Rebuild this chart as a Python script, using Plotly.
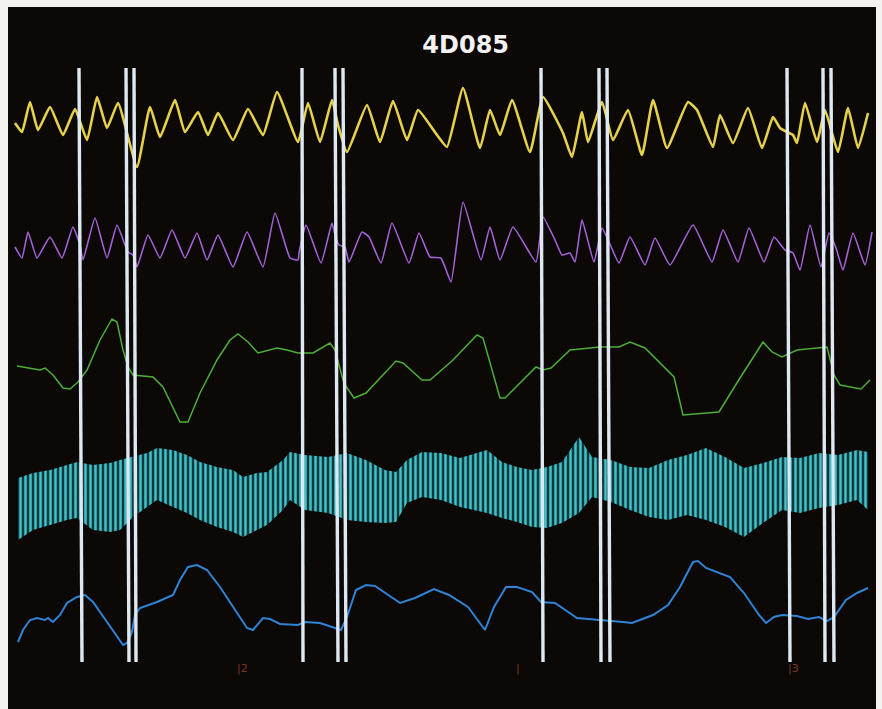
import plotly.graph_objects as go

# ---- channel 1 (yellow) ----
ch1_t = [15, 22, 30, 38, 50, 63, 75, 87, 97, 107, 118, 137, 150, 160, 175, 185, 198, 208, 218, 233,
         248, 263, 277, 298, 308, 320, 332, 338, 347, 367, 380, 393, 407, 418, 437, 447, 463, 480,
         490, 500, 512, 530, 543, 563, 572, 582, 588, 602, 613, 628, 642, 653, 667, 688, 697, 713,
         720, 733, 748, 762, 773, 780, 787, 793, 797, 805, 817, 825, 838, 848, 858, 868]
ch1_v = [123, 132, 102, 130, 107, 135, 109, 140, 97, 128, 103, 167, 107, 137, 100, 132, 112, 135, 113, 140,
         109, 135, 92, 142, 103, 142, 100, 125, 152, 105, 142, 101, 140, 110, 135, 147, 88, 148,
         110, 135, 100, 152, 97, 133, 157, 112, 142, 102, 140, 110, 155, 100, 148, 102, 110, 147,
         115, 143, 108, 148, 117, 128, 132, 135, 143, 103, 142, 110, 152, 108, 148, 113]

# ---- channel 2 (purple) ----
ch2_t = [15, 22, 28, 37, 50, 62, 73, 80, 83, 95, 107, 117, 128, 133, 137, 148, 160, 172, 185, 197,
         207, 218, 233, 247, 263, 275, 290, 298, 299, 306, 321, 332, 335, 339, 345, 349, 362, 369,
         381, 392, 409, 419, 430, 441, 451, 463, 481, 490, 500, 513, 536, 543, 555, 562, 570, 575,
         582, 594, 602, 609, 619, 630, 645, 655, 670, 693, 712, 723, 738, 749, 764, 774, 785, 793,
         800, 810, 821, 829, 836, 843, 853, 865, 872]
ch2_v = [247, 258, 232, 258, 237, 258, 227, 245, 260, 218, 258, 225, 252, 255, 267, 235, 258, 230, 258, 233,
         260, 235, 267, 232, 267, 213, 258, 260, 253, 225, 263, 223, 235, 245, 247, 262, 232, 237,
         263, 223, 263, 233, 257, 258, 282, 202, 260, 227, 260, 227, 262, 217, 240, 255, 253, 262,
         220, 262, 228, 242, 263, 237, 265, 238, 265, 225, 262, 230, 262, 228, 262, 237, 250, 253,
         270, 225, 267, 233, 248, 270, 233, 265, 232]

# ---- channel 3 (green) ----
ch3_t = [17, 40, 45, 53, 63, 70, 78, 87, 100, 112, 117, 123, 128, 133, 153, 163, 180, 188, 200, 217,
         230, 238, 248, 258, 277, 287, 298, 313, 330, 335, 343, 345, 354, 366, 396, 403, 422, 430,
         453, 477, 483, 500, 505, 536, 543, 551, 570, 600, 619, 630, 645, 674, 683, 719, 740, 763,
         772, 782, 797, 827, 834, 840, 861, 870]
ch3_v = [366, 370, 368, 375, 388, 389, 382, 370, 340, 319, 322, 350, 367, 375, 377, 387, 422, 422, 393, 360,
         340, 334, 342, 353, 348, 350, 353, 353, 343, 350, 380, 385, 398, 393, 361, 363, 380, 380,
         360, 335, 338, 398, 398, 367, 370, 368, 350, 347, 347, 342, 348, 377, 415, 412, 378, 342,
         352, 357, 350, 347, 375, 385, 389, 380]

# ---- channel 4 (cyan, dense oscillation): upper / lower envelope ----
ch4_t = [18, 33, 50, 67, 77, 93, 110, 120, 133, 147, 157, 173, 187, 200, 217, 233, 243, 257, 267, 283,
         290, 305, 328, 347, 366, 385, 396, 407, 422, 441, 460, 487, 502, 517, 532, 547, 562, 579,
         592, 611, 630, 649, 668, 687, 706, 725, 744, 763, 782, 800, 819, 838, 857, 868]
ch4_hi = [478, 473, 470, 465, 462, 465, 463, 460, 457, 453, 448, 450, 455, 462, 467, 470, 477, 473, 472, 460,
          452, 455, 457, 453, 460, 470, 472, 460, 452, 453, 458, 450, 462, 467, 470, 467, 462, 437,
          457, 460, 467, 468, 460, 455, 448, 457, 468, 463, 457, 458, 453, 455, 450, 452]
ch4_lo = [540, 530, 525, 520, 518, 530, 532, 530, 517, 507, 500, 507, 513, 520, 527, 532, 537, 530, 525, 510,
          500, 510, 513, 520, 522, 523, 522, 503, 497, 500, 507, 513, 518, 522, 527, 528, 523, 513,
          497, 502, 510, 517, 520, 515, 520, 527, 537, 523, 510, 513, 508, 505, 500, 510]

# ---- channel 5 (blue) ----
ch5_t = [18, 23, 30, 37, 45, 48, 53, 60, 67, 77, 85, 93, 107, 123, 127, 132, 135, 140, 157, 173,
         180, 188, 197, 207, 220, 233, 247, 253, 263, 270, 280, 298, 305, 320, 335, 341, 347, 356,
         366, 375, 400, 415, 434, 449, 468, 485, 494, 506, 517, 532, 541, 555, 577, 604, 623, 632,
         653, 668, 680, 693, 698, 706, 717, 730, 744, 759, 766, 774, 782, 797, 808, 819, 827, 834,
         846, 857, 868]
ch5_v = [642, 630, 620, 618, 620, 618, 622, 615, 603, 597, 595, 602, 622, 645, 643, 632, 615, 608, 602, 595,
         580, 567, 565, 570, 587, 607, 628, 630, 618, 619, 624, 625, 622, 623, 628, 630, 617, 590,
         585, 586, 603, 598, 589, 595, 607, 630, 607, 587, 587, 592, 602, 603, 618, 620, 622, 623,
         615, 605, 587, 562, 561, 568, 572, 577, 593, 615, 623, 617, 615, 616, 619, 617, 621, 617,
         600, 593, 588]

# ---- cursor lines (start / end sample of each sweep marker) ----
cursor_top = [79, 126, 134, 302, 335, 343, 541, 599, 607, 787, 823, 831]
cursor_bottom = [82, 129, 136, 303, 338, 346, 543, 601, 610, 790, 825, 834]
cursor_y = [68, 662]

# ---- event markers along the base ----
event_t = [242, 518, 793]
event_text = ["|2", "|", "|3"]
event_y = 668

title_text = "4D085"

BG = "#0b0806"
fig = go.Figure()

fig.add_trace(go.Scatter(x=ch1_t, y=ch1_v, mode="lines",
                         line=dict(color="#e6d24a", width=2.6, shape="spline", smoothing=0.4)))
fig.add_trace(go.Scatter(x=ch2_t, y=ch2_v, mode="lines",
                         line=dict(color="#a462d6", width=1.6, shape="spline", smoothing=0.4)))
fig.add_trace(go.Scatter(x=ch3_t, y=ch3_v, mode="lines",
                         line=dict(color="#4fae36", width=1.5)))

# cyan band: lower envelope, then upper envelope filled with vertical strokes
fig.add_trace(go.Scatter(x=ch4_t, y=ch4_lo, mode="lines", line=dict(width=0, color="#3fc2ca")))
fig.add_trace(go.Scatter(x=ch4_t, y=ch4_hi, mode="lines", line=dict(width=0, color="#3fc2ca"),
                         fill="tonexty",
                         fillpattern=dict(shape="|", size=5, solidity=0.5,
                                          fgcolor="#40c2ca", bgcolor="rgba(28,96,104,0.55)",
                                          fillmode="replace")))

fig.add_trace(go.Scatter(x=ch5_t, y=ch5_v, mode="lines",
                         line=dict(color="#2f84d6", width=2.0)))

# cursor lines on top of the traces
cx, cy = [], []
for a, b in zip(cursor_top, cursor_bottom):
    cx += [a, b, None]
    cy += [cursor_y[0], cursor_y[1], None]
fig.add_trace(go.Scatter(x=cx, y=cy, mode="lines",
                         line=dict(color="#dde8f2", width=3.4)))

for t, txt in zip(event_t, event_text):
    fig.add_annotation(x=t, y=event_y, text=txt, showarrow=False,
                       font=dict(family="DejaVu Sans", size=11, color="#7a3820"))

fig.update_layout(
    width=882, height=709,
    margin=dict(l=8, r=6, t=7, b=0),
    paper_bgcolor="#f3f2ef",
    plot_bgcolor=BG,
    showlegend=False,
    title=dict(text="<b>" + title_text + "</b>", x=0.528, xanchor="center",
               y=0.937, yanchor="middle",
               font=dict(family="DejaVu Sans", size=24, color="#f2f2f2")),
    xaxis=dict(range=[8, 876], visible=False, showgrid=False, zeroline=False),
    yaxis=dict(range=[709, 7], visible=False, showgrid=False, zeroline=False),
)

fig.write_html("out.html")
